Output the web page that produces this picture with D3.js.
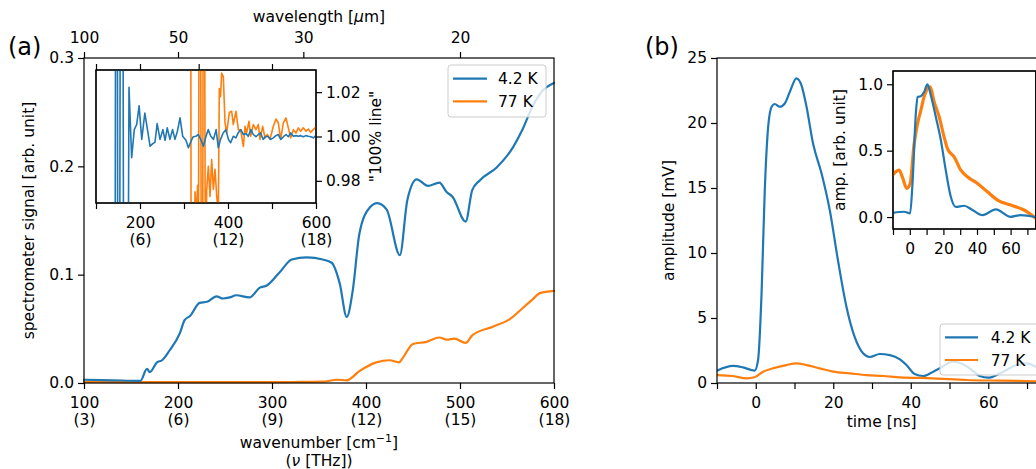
<!DOCTYPE html>
<html>
<head>
<meta charset="utf-8">
<script src="https://cdn.jsdelivr.net/npm/d3@7"></script>
<style>
  body { margin: 0; background: #fff; }
  svg { font-family: 'DejaVu Sans', sans-serif; font-size: 15.5px; }
  .axis text { font-family: 'DejaVu Sans', sans-serif; font-size: 15.5px; fill: #000; }
  .axis line { stroke: #000; stroke-width: 1.2; }
</style>
</head>
<body>
<div id="chart"></div>
<script>
// series names / colours
const seriesNames = ['4.2 K', '77 K']
const seriesColors = ['#1f77b4', '#ff7f0e']

// (a) tick labels
const wnTicks = [100, 200, 300, 400, 500, 600]
const thzLabels = ['(3)', '(6)', '(9)', '(12)', '(15)', '(18)']
const wavelengthTicks = [100, 50, 30, 20]
const signalTicks = [0, 0.1, 0.2, 0.3]
const ratioTicks = [0.98, 1.0, 1.02]

// (a) spectrometer signal
const specWn42 = [100, 130, 160, 167, 170, 177.6, 183, 191, 202, 207, 213, 223, 231, 241, 248, 255, 262, 276, 287, 294.5,
  308, 321, 337, 354, 363.5, 372, 379.5, 386, 393, 404, 412, 422, 436, 444, 454, 466, 478, 486, 492, 506,
  513, 521, 539, 556, 566.5, 577, 588, 600]
const specVal42 = [0.003, 0.0025, 0.002, 0.013, 0.010, 0.019, 0.021, 0.030, 0.046, 0.058, 0.062, 0.074, 0.075, 0.080, 0.078, 0.079, 0.081, 0.079, 0.088, 0.090,
  0.102, 0.114, 0.116, 0.114, 0.111, 0.092, 0.061, 0.086, 0.138, 0.162, 0.166, 0.160, 0.118, 0.169, 0.188, 0.182, 0.185, 0.176, 0.172, 0.149,
  0.178, 0.187, 0.199, 0.217, 0.234, 0.255, 0.270, 0.277]
const specWn77 = [100, 200, 300, 330, 354, 369, 379.5, 393, 411, 425, 435, 439, 450, 464.5, 478, 486, 494, 506, 513, 535,
  553, 566.5, 577, 585, 600]
const specVal77 = [0.001, 0.0008, 0.0008, 0.001, 0.0012, 0.003, 0.0025, 0.011, 0.019, 0.021, 0.019, 0.023, 0.036, 0.038, 0.042, 0.040, 0.041, 0.037, 0.044, 0.052,
  0.059, 0.069, 0.077, 0.083, 0.085]

// (a) inset "100% line"
const ratioWn42 = [141, 147, 151, 158, 166, 175, 181, 187, 192.5, 198, 204, 211, 217, 223, 229, 234, 239, 245.5, 252, 257,
  262, 268, 274, 279.5, 285, 291, 297, 304.5, 310, 316, 321, 327, 332.5, 338, 344, 350, 355, 361, 367, 373,
  378, 383, 389, 395, 401, 406, 412, 418, 423, 429, 435, 441, 446, 452, 457.5, 463.5, 469, 474, 480, 486,
  491.5, 497, 503, 509, 514, 520, 526, 532, 537, 542.5, 548.5, 554.5, 560, 565, 571, 577, 582.5, 588, 594, 600]
const ratioVal42 = [0.6, 1.4, 0.6, 1.4, 0.6, 1.0222, 0.9904, 1.0031, 1.0054, 1.0139, 0.9987, 1.0106, 1.0031, 0.9956, 0.9968, 0.9974, 1.0058, 0.9987, 1.0031, 0.9983,
  1.0039, 0.9987, 1.0031, 0.9987, 1.0024, 1.0084, 1.0001, 0.9983, 0.9949, 0.9979, 0.9999, 1.0001, 1.0009, 0.9987, 0.9956, 1.0001, 1.0031, 1.0001, 0.9987, 1.0031,
  0.9949, 0.9987, 1.0016, 1.0031, 0.9987, 0.9972, 1.0001, 0.9994, 1.0016, 1.0031, 1.0009, 1.0013, 1.0001, 1.0031, 1.0009, 0.9999, 1.0009, 1.0016, 0.9987, 1.0001,
  0.9999, 0.9987, 0.9994, 1.0004, 1.0009, 0.9987, 0.9999, 1.0009, 0.9999, 1.0016, 1.0001, 1.0004, 1.0001, 1.0004, 0.9999, 1.0004, 1.0001, 0.9999, 0.9994, 1.0004]
const ratioWn77 = [314, 317, 325, 328, 331, 333, 336, 341, 345, 349, 351.5, 355.3, 359.1, 362.9, 366.7, 370.5, 374.3, 378, 380.3, 383,
  385.6, 389.4, 393.2, 397, 403, 408.3, 412.1, 418.2, 423.5, 428.8, 434.9, 438.7, 442.4, 447.7, 451.5, 457.6, 463.6, 468.9, 472.7, 478.8,
  484.1, 489.4, 495.5, 503, 509.1, 514.4, 519.7, 525.8, 531.8, 537.1, 542.4, 548.5, 554.6, 559.9, 565.2, 571.2, 577.3, 582.6, 587.9, 593.9, 600]
const ratioVal77 = [1.3, 0.8, 0.975, 0.965, 0.978, 0.962, 1.2, 0.8, 1.2, 0.9, 0.9756, 0.9866, 0.973, 0.9896, 0.9761, 0.9852, 0.9733, 0.965, 1.0216, 1.018,
  1.0286, 1.027, 1.0063, 1.0016, 1.0108, 1.0114, 1.0054, 1.0114, 1.003, 1.003, 0.9955, 1.0046, 1.0016, 1.0069, 1.0001, 1.0054, 1.0031, 1.0054, 0.9987, 1.0046,
  0.9994, 1.0009, 0.9987, 1.0046, 1.0079, 1.0061, 0.9987, 1.0061, 1.0084, 1.0039, 0.9994, 1.0031, 1.0016, 1.0039, 1.0024, 1.0039, 1.0024, 1.0034, 1.0019, 1.0031, 1.0043]

// (b) tick values
const timeTicks = [-10, 0, 10, 20, 30, 40, 50, 60, 70]
const ampTicks = [0, 5, 10, 15, 20, 25]
const ampInsetTicks = [0, 0.5, 1.0]

// (b) pulse amplitude
const timeMain42 = [-10, -5.9, -3.3, -0.3, 0.6, 1.5, 2.3, 3.2, 4.1, 4.9, 6.2, 7.5, 8.8, 10.5, 11.8, 13.1, 14.8, 17, 19.1, 21.2,
  23.4, 25.5, 27.7, 29.4, 32, 34.6, 37.2, 38.9, 41, 43.2, 45.8, 47.5, 50.9, 52.6, 55.2, 57.8, 60, 63, 67.3, 69.9, 72.3, 75]
const ampMain42 = [0.95, 1.31, 1.2, 0.95, 1.77, 6.9, 14.6, 19.7, 21.25, 21.46, 21.25, 21.5, 22.4, 23.44, 22.9, 21.25, 18.4, 16.1, 13.3, 9.46,
  5.87, 3.56, 2.28, 2.0, 2.23, 2.15, 1.82, 1.38, 0.69, 0.54, 0.87, 1.13, 1.64, 1.56, 1.13, 0.54, 0.41, 0.74, 1.38, 1.51, 1.25, 1.0]
const timeMain77 = [-10, -5.9, -2.4, -0.3, 1.9, 4.5, 7.9, 10.5, 13.1, 16.5, 20, 24.3, 28.6, 32.9, 37.2, 45.8, 54.4, 63, 75]
const ampMain77 = [0.61, 0.54, 0.36, 0.44, 0.87, 1.13, 1.38, 1.51, 1.38, 1.13, 0.87, 0.74, 0.61, 0.54, 0.44, 0.36, 0.23, 0.18, 0.12]

// (b) inset, normalised
const timeIn42 = [-10, -3.4, 0.2, 1.6, 3.6, 4.6, 6.5, 8.5, 10.5, 12.5, 15.5, 18.5, 21.4, 24.4, 27.4, 32.3, 37.3, 43.3, 51.2, 60.1, 66, 75]
const ampIn42 = [0.032, 0.04, 0.028, 0.253, 0.78, 0.905, 0.91, 0.942, 1.0, 0.917, 0.754, 0.579, 0.353, 0.153, 0.077, 0.085, 0.053, 0.015, 0.058, 0.002, 0.015, 0.0]
const timeIn77 = [-10, -6.4, -4.4, -1.8, 0.2, 2.6, 4.6, 6.5, 8.5, 10.5, 12.1, 14.5, 17.5, 20.4, 22.4, 26.4, 30.4, 34.3, 40.3, 46.2, 52.2, 60.1, 68, 75]
const ampIn77 = [0.32, 0.353, 0.30, 0.216, 0.253, 0.554, 0.704, 0.80, 0.905, 0.967, 0.98, 0.867, 0.754, 0.604, 0.516, 0.453, 0.353, 0.303, 0.253, 0.19, 0.128, 0.09, 0.053, -0.01]

const W = 1036, H = 469
let svg = d3.select('#chart').append('svg').attr('width', W).attr('height', H)
let defs = svg.append('defs')

// helpers
let drawCurve = (g, xs, ys, xScale, yScale, color, curve, width) => {
  let line = d3.line().x((d, i) => xScale(xs[i])).y((d, i) => yScale(ys[i])).curve(curve)
  g.append('path').attr('d', line(xs)).attr('fill', 'none')
    .attr('stroke', color).attr('stroke-width', width)
    .attr('stroke-linejoin', 'round').attr('stroke-linecap', 'round')
}
let axisG = (axis, tx, ty) => svg.append('g').classed('axis', true)
  .attr('transform', `translate(${tx},${ty})`).call(axis)
  .call(g => g.select('.domain').remove())
let twoLine = g => g.selectAll('.tick text').each(function (d) {
  let t = d3.select(this), first = t.text()
  if (!first) return
  t.text(null)
  t.append('tspan').attr('x', 0).text(first)
  t.append('tspan').attr('x', 0).attr('dy', '1.15em').text(thzLabels[wnTicks.indexOf(d)])
})
let clip = (id, x, y, w, h) => defs.append('clipPath').attr('id', id)
  .append('rect').attr('x', x).attr('y', y).attr('width', w).attr('height', h)
let frame = (x, y, w, h, fill) => svg.append('rect').attr('x', x).attr('y', y)
  .attr('width', w).attr('height', h).attr('fill', fill || 'none')
  .attr('stroke', '#000').attr('stroke-width', 1.2)
let drawLegend = (x, y, w, h, lx1, lx2, rowY, tx) => {
  let g = svg.append('g')
  g.append('rect').attr('x', x).attr('y', y).attr('width', w).attr('height', h).attr('rx', 3)
    .attr('fill', 'rgba(255,255,255,0.8)').attr('stroke', '#ccc').attr('stroke-width', 1)
  seriesNames.forEach((name, i) => {
    g.append('line').attr('x1', lx1).attr('x2', lx2).attr('y1', rowY[i]).attr('y2', rowY[i])
      .attr('stroke', seriesColors[i]).attr('stroke-width', 2.2)
    g.append('text').attr('x', tx).attr('y', rowY[i] + 5.5).text(name)
  })
}

// ================= panel (a) =================
let xA = d3.scaleLinear().domain([100, 600]).range([84, 554])
let yA = d3.scaleLinear().domain([0, 0.3]).range([383, 58])
let gA = svg.append('g')
drawCurve(gA, specWn77, specVal77, xA, yA, seriesColors[1], d3.curveMonotoneX, 2.2)
drawCurve(gA, specWn42, specVal42, xA, yA, seriesColors[0], d3.curveMonotoneX, 2.2)
frame(84, 58, 470, 325)

axisG(d3.axisBottom(xA).tickValues(wnTicks).tickSize(6).tickPadding(7.5).tickFormat(d3.format('d')), 0, 383).call(twoLine)
axisG(d3.axisLeft(yA).tickValues(signalTicks).tickSize(6).tickPadding(4).tickFormat(d3.format('.1f')), 84, 0)
axisG(d3.axisTop(xA).tickValues(wavelengthTicks.map(l => 1e4 / l)).tickSize(6).tickPadding(9)
  .tickFormat((d, i) => wavelengthTicks[i]), 0, 58)

// 坐标轴标题
let wl = svg.append('text').attr('x', 319).attr('y', 22).attr('text-anchor', 'middle')
wl.append('tspan').text('wavelength [')
wl.append('tspan').attr('font-style', 'italic').text('μ')
wl.append('tspan').text('m]')
let wn = svg.append('text').attr('x', 319).attr('y', 448).attr('text-anchor', 'middle')
wn.append('tspan').text('wavenumber [cm')
wn.append('tspan').attr('dy', -6).attr('font-size', '11px').text('−1')
wn.append('tspan').attr('dy', 6).text(']')
let nu = svg.append('text').attr('x', 319).attr('y', 466).attr('text-anchor', 'middle')
nu.append('tspan').text('(')
nu.append('tspan').attr('font-style', 'italic').text('ν')
nu.append('tspan').text(' [THz])')
svg.append('text').attr('transform', 'translate(34,220.5) rotate(-90)')
  .attr('text-anchor', 'middle').text('spectrometer signal [arb. unit]')
svg.append('text').attr('x', 8).attr('y', 55).attr('font-size', '24px').text('(a)')

// inset (a)
let xAi = d3.scaleLinear().domain([100, 600]).range([96, 316])
let yAi = d3.scaleLinear().domain([0.97, 1.03]).range([203, 70])
frame(96, 70, 220, 133, '#fff')
clip('clipAi', 96, 70, 220, 133)
let gAi = svg.append('g').attr('clip-path', 'url(#clipAi)')
drawCurve(gAi, ratioWn77, ratioVal77, xAi, yAi, seriesColors[1], d3.curveLinear, 1.6)
drawCurve(gAi, ratioWn42, ratioVal42, xAi, yAi, seriesColors[0], d3.curveLinear, 1.6)
frame(96, 70, 220, 133)
axisG(d3.axisBottom(xAi).tickValues(wnTicks).tickSize(6).tickPadding(7.5)
  .tickFormat(d => [200, 400, 600].includes(d) ? d : ''), 0, 203).call(twoLine)
axisG(d3.axisTop(xAi).tickValues(wavelengthTicks.map(l => 1e4 / l)).tickSize(6).tickFormat(''), 0, 70)
axisG(d3.axisRight(yAi).tickValues(ratioTicks).tickSize(6).tickPadding(4).tickFormat(d3.format('.2f')), 316, 0)
svg.append('text').attr('transform', 'translate(381,136.5) rotate(-90)')
  .attr('text-anchor', 'middle').text('"100% line"')

drawLegend(448, 65, 98, 52, 453, 487, [78.7, 101.3], 498)

// ================= panel (b) =================
let xB = d3.scaleLinear().domain([-10, 75]).range([717, 1046.4])
let yB = d3.scaleLinear().domain([0, 25]).range([383, 58])
clip('clipB', 717, 58, 330, 325)
let gB = svg.append('g').attr('clip-path', 'url(#clipB)')
drawCurve(gB, timeMain42, ampMain42, xB, yB, seriesColors[0], d3.curveMonotoneX, 2.2)
drawCurve(gB, timeMain77, ampMain77, xB, yB, seriesColors[1], d3.curveMonotoneX, 2.2)
frame(717, 58, 329.4, 325)
axisG(d3.axisBottom(xB).tickValues(timeTicks).tickSize(6).tickPadding(7.5)
  .tickFormat(d => d % 20 === 0 ? d : ''), 0, 383)
axisG(d3.axisLeft(yB).tickValues(ampTicks).tickSize(6).tickPadding(4), 717, 0)
svg.append('text').attr('x', 881.7).attr('y', 427).attr('text-anchor', 'middle').text('time [ns]')
svg.append('text').attr('transform', 'translate(674,220.5) rotate(-90)')
  .attr('text-anchor', 'middle').text('amplitude [mV]')
svg.append('text').attr('x', 645).attr('y', 55).attr('font-size', '24px').text('(b)')

// inset (b)
let xBi = d3.scaleLinear().domain([-10, 75]).range([893, 1035.8])
let yBi = d3.scaleLinear().domain([-0.09, 1.1]).range([229, 71])
frame(893, 71, 142.8, 158, '#fff')
clip('clipBi', 893, 71, 142.8, 158)
let gBi = svg.append('g').attr('clip-path', 'url(#clipBi)')
drawCurve(gBi, timeIn77, ampIn77, xBi, yBi, seriesColors[1], d3.curveMonotoneX, 3.2)
drawCurve(gBi, timeIn42, ampIn42, xBi, yBi, seriesColors[0], d3.curveMonotoneX, 2.2)
frame(893, 71, 142.8, 158)
axisG(d3.axisBottom(xBi).tickValues(timeTicks).tickSize(6).tickPadding(7.5)
  .tickFormat(d => d % 20 === 0 ? d : ''), 0, 229)
axisG(d3.axisLeft(yBi).tickValues(ampInsetTicks).tickSize(6).tickPadding(4).tickFormat(d3.format('.1f')), 893, 0)
svg.append('text').attr('transform', 'translate(845,150) rotate(-90)')
  .attr('text-anchor', 'middle').text('amp. [arb. unit]')

drawLegend(940, 324, 100, 51, 945, 978, [337.3, 360], 990.7)
</script>
</body>
</html>
